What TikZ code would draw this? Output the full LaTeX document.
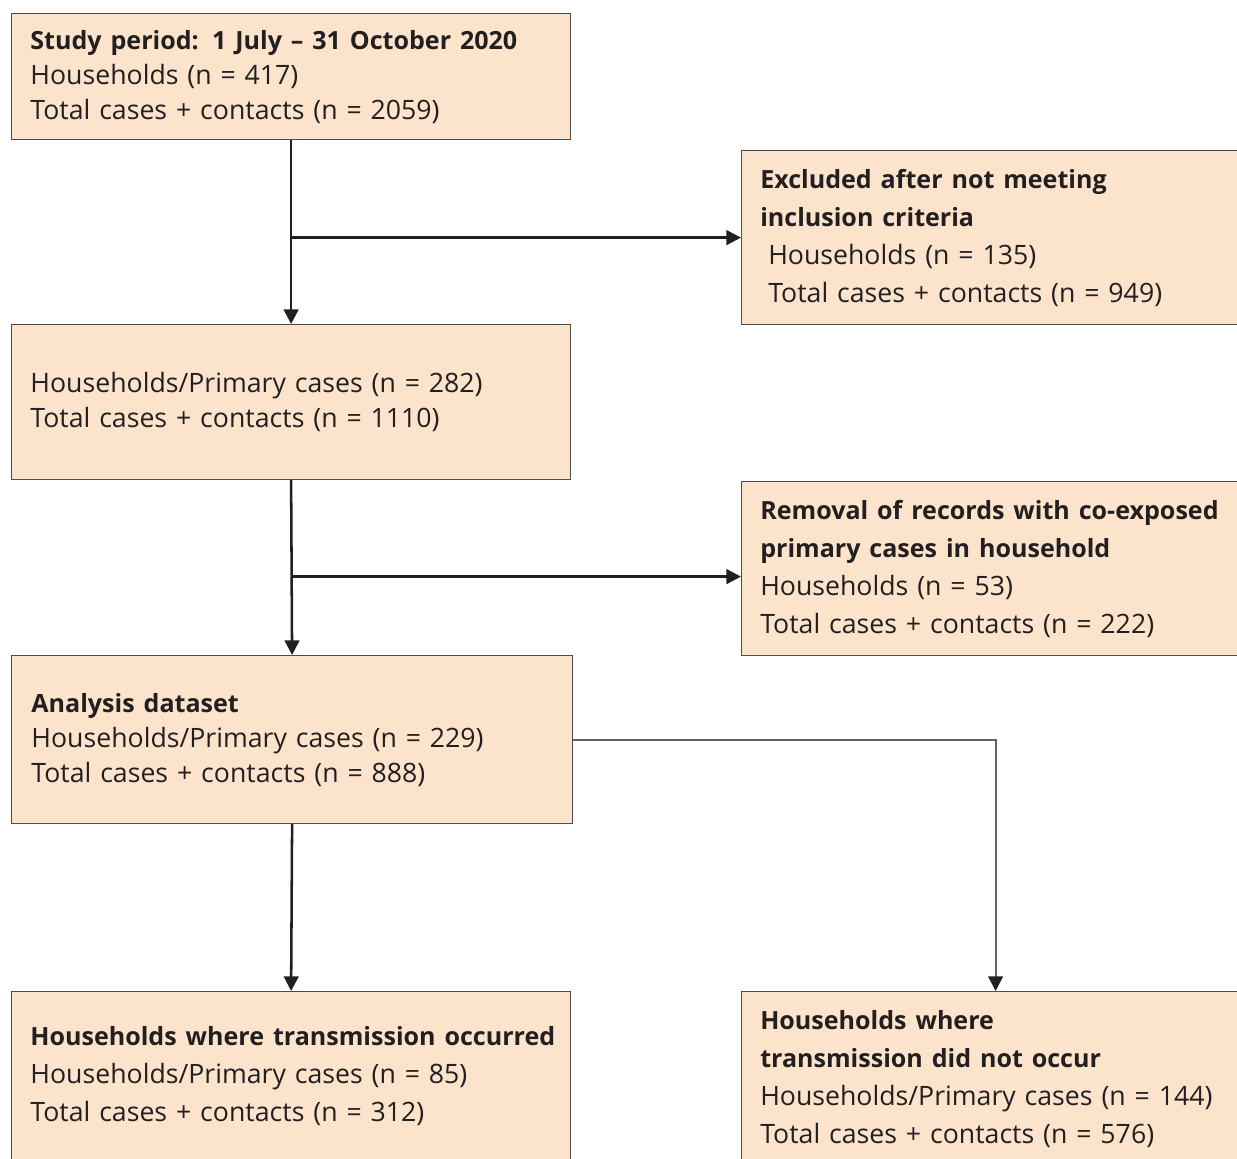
\documentclass[tikz,border=0pt]{standalone}
\usepackage{fontspec}
\setmainfont{Open Sans}
\usetikzlibrary{arrows.meta}
\definecolor{boxfill}{HTML}{FCE4CC}
\definecolor{ink}{HTML}{231F20}
\tikzset{
  leftbox/.style={draw=ink!80, line width=0.9pt, fill=boxfill, anchor=north west,
    minimum width=419.25pt, inner xsep=14pt, text width=391pt, align=left,
    text=ink, font=\fontsize{20}{26.25}\selectfont},
  rightbox/.style={draw=ink!80, line width=0.9pt, fill=boxfill, anchor=north west,
    minimum width=372pt, inner xsep=14pt, text width=344pt, align=left,
    text=ink, font=\fontsize{20}{28.5}\selectfont},
  flow/.style={ink, line width=1.9pt, -{Triangle[length=11pt,width=11pt]}},
  sideflow/.style={ink!70, line width=1.4pt, -{Triangle[length=11pt,width=11pt,color=ink]}},
}
\newcommand{\hd}[1]{\mbox{\bfseries\fontsize{18.8}{18.8}\selectfont #1}}
\begin{document}
\begin{tikzpicture}[x=0.75pt,y=-0.75pt]
            \useasboundingbox (0,0) rectangle (1237,1158);
            \node[leftbox, minimum height=94.5pt] (study) at (11,13)
              {\hd{Study period: 1 July -- 31 October 2020}\\Households (n = 417)\\Total cases + contacts (n = 2059)};
            \node[rightbox, minimum height=130.5pt] (excluded) at (741,150)
              {\hd{Excluded after not meeting}\\\hd{inclusion criteria}\\\hspace{0.3em}Households (n = 135)\\\hspace{0.3em}Total cases + contacts (n = 949)};
            \node[leftbox, minimum height=116.25pt] (eligible) at (11,324)
              {Households/Primary cases (n = 282)\\Total cases + contacts (n = 1110)};
            \node[rightbox, minimum height=130.5pt] (removed) at (741,481)
              {\hd{Removal of records with co-exposed}\\\hd{primary cases in household}\\Households (n = 53)\\Total cases + contacts (n = 222)};
            \node[leftbox, minimum height=126pt, minimum width=420.75pt] (analysis) at (11,655)
              {\hd{Analysis dataset}\\Households/Primary cases (n = 229)\\Total cases + contacts (n = 888)};
            \node[leftbox, minimum height=126pt, font=\fontsize{20}{28.5}\selectfont] (trans) at (11,991)
              {\hd{Households where transmission occurred}\\Households/Primary cases (n = 85)\\Total cases + contacts (n = 312)};
            \node[rightbox, minimum height=131.25pt] (notrans) at (741,991)
              {\hd{Households where}\\\hd{transmission did not occur}\\Households/Primary cases (n = 144)\\Total cases + contacts (n = 576)};
            \draw [flow] (study.south) -- (eligible.north);
            \draw [flow] (study.south |- excluded.west) -- (excluded.west);
            \draw [flow] (eligible.south) -- (analysis.north);
            \draw [flow] ([yshift=-6pt]eligible.south |- removed.west) -- ([yshift=-6pt]removed.west);
            \draw [flow] (analysis.south) -- (trans.north);
            \draw [sideflow] (analysis.east) -| ([xshift=4.5pt]notrans.north);
        \end{tikzpicture}
\end{document}
